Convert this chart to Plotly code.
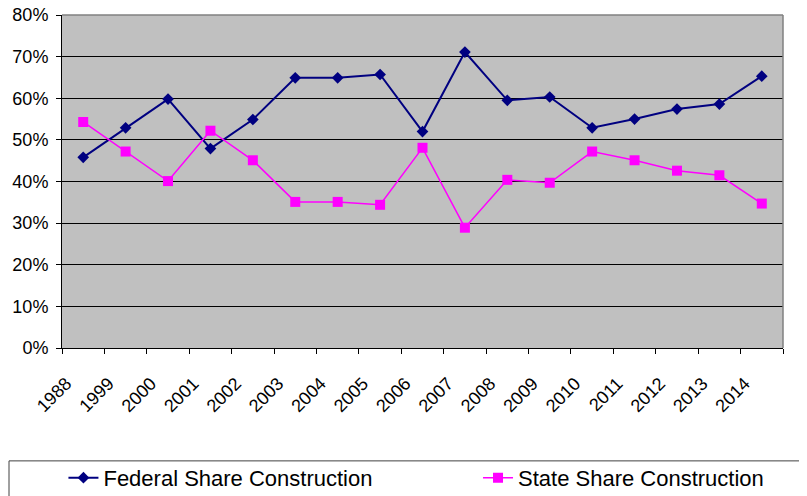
import plotly.graph_objects as go

years = ["1988", "1999", "2000", "2001", "2002", "2003", "2004", "2005", "2006",
         "2007", "2008", "2009", "2010", "2011", "2012", "2013", "2014"]
federal = [45.8, 52.9, 59.8, 47.9, 54.9, 64.9, 64.9, 65.7, 52.0,
           71.1, 59.5, 60.3, 52.9, 55.0, 57.4, 58.6, 65.3]
state = [54.3, 47.2, 40.1, 52.2, 45.1, 35.1, 35.1, 34.4, 48.1,
         28.9, 40.4, 39.7, 47.2, 45.1, 42.6, 41.5, 34.7]
y_ticks = [0, 10, 20, 30, 40, 50, 60, 70, 80]
y_labels = [f"{v}%" for v in y_ticks]

FONT = "Arial, Liberation Sans, sans-serif"

fig = go.Figure()
fig.add_trace(go.Scatter(
    x=years, y=federal, name="Federal Share Construction", mode="lines+markers",
    line=dict(color="#000080", width=2),
    marker=dict(symbol="diamond", size=9, color="#000080"),
    legend="legend",
))
fig.add_trace(go.Scatter(
    x=years, y=state, name="State Share Construction", mode="lines+markers",
    line=dict(color="#FF00FF", width=1.5),
    marker=dict(symbol="square", size=10, color="#FF00FF"),
    legend="legend2",
))

legend_common = dict(
    orientation="h", xanchor="left", y=-0.39, yanchor="middle",
    font=dict(size=22, family=FONT, color="black"),
    bgcolor="rgba(0,0,0,0)", itemclick=False,
)

# page body has an 8px margin, so the figure is sized/offset to compensate
fig.update_layout(
    width=799, height=488,
    margin=dict(l=54, r=24, t=7, b=148, autoexpand=False),
    paper_bgcolor="white",
    plot_bgcolor="#C0C0C0",
    font=dict(family=FONT, color="black"),
    showlegend=True,
    legend=dict(x=0.002, **legend_common),
    legend2=dict(x=0.577, **legend_common),
    xaxis=dict(
        type="category", tickson="boundaries", ticks="outside", ticklen=5,
        tickcolor="black", showline=True, linecolor="black", linewidth=1,
        showgrid=False, tickangle=-45, tickfont=dict(size=18, family=FONT),
        range=[-0.5, len(years) - 0.5], automargin=False,
        ticklabelstandoff=17, ticklabelshift=-17, ticklabeloverflow="allow",
    ),
    yaxis=dict(
        range=[0, 80], tickvals=y_ticks, ticktext=y_labels, ticks="outside",
        ticklen=5, tickcolor="black", showline=True, linecolor="black",
        linewidth=1, showgrid=True, gridcolor="black", gridwidth=1,
        zeroline=False, tickfont=dict(size=18, family=FONT), automargin=False,
        ticklabelstandoff=4, ticklabeloverflow="allow",
    ),
    shapes=[
        dict(type="line", xref="paper", yref="paper", x0=0, x1=1, y0=1, y1=1,
             line=dict(color="#808080", width=1.5), layer="above"),
        dict(type="line", xref="paper", yref="paper", x0=1, x1=1, y0=0, y1=1,
             line=dict(color="#808080", width=1.5), layer="above"),
        dict(type="rect", xref="paper", yref="paper", x0=-0.0735, x1=1.04,
             y0=-0.339, y1=-0.46, line=dict(color="#404040", width=1),
             fillcolor="rgba(0,0,0,0)"),
    ],
)

fig.write_html("out.html")
